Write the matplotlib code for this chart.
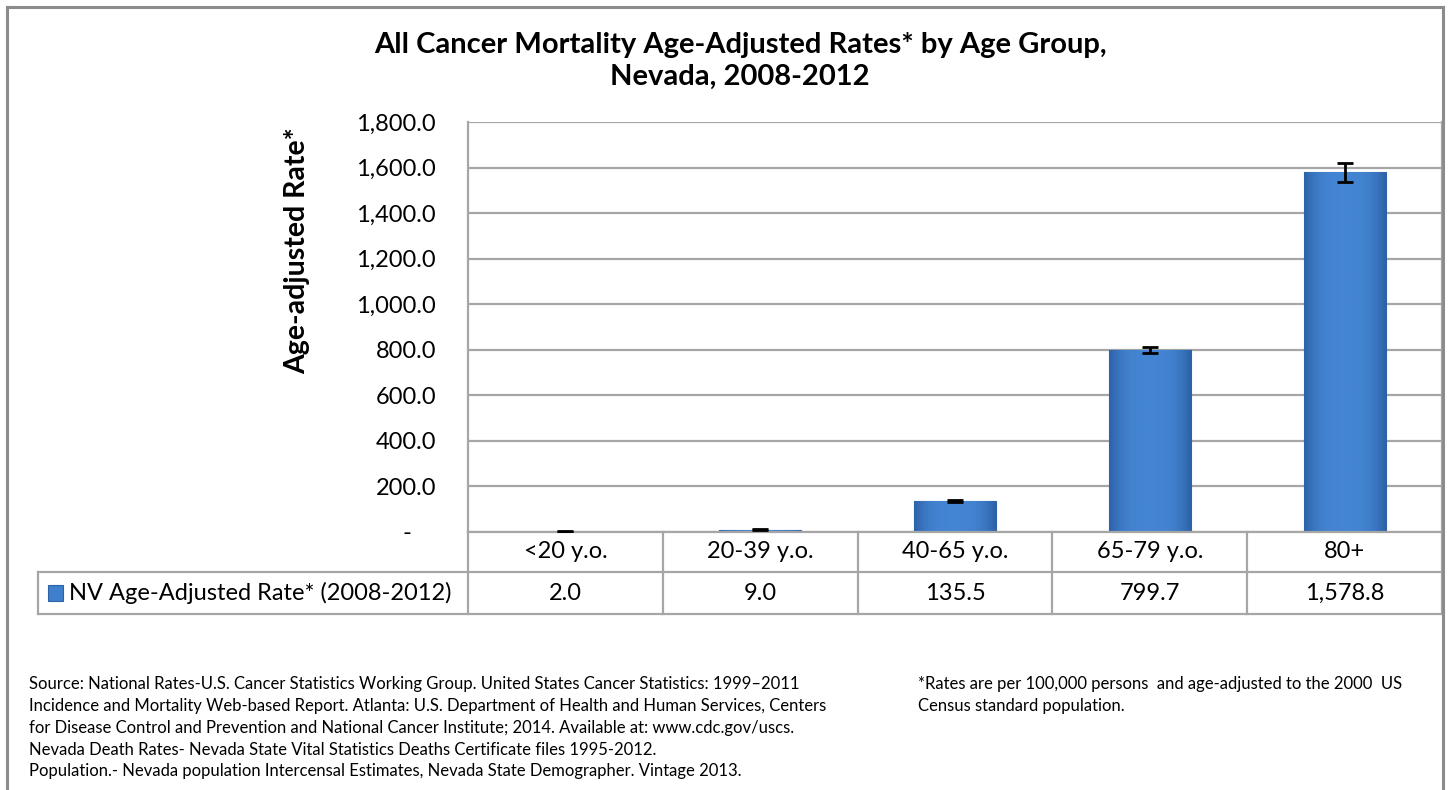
import matplotlib
matplotlib.use("Agg")
import matplotlib.pyplot as plt
import numpy as np
from matplotlib.transforms import blended_transform_factory
from matplotlib.lines import Line2D
from matplotlib.patches import Rectangle

# ---- data ----
categories = ["<20 y.o.", "20-39 y.o.", "40-65 y.o.", "65-79 y.o.", "80+"]
rates = [2.0, 9.0, 135.5, 799.7, 1578.8]
errors = [1.0, 2.0, 4.0, 14.0, 42.0]
series_label = "NV Age-Adjusted Rate* (2008-2012)"
yticks = [0, 200, 400, 600, 800, 1000, 1200, 1400, 1600, 1800]
title = "All Cancer Mortality Age-Adjusted Rates* by Age Group,\nNevada, 2008-2012"
ylabel = "Age-adjusted Rate*"
source_note = ("Source: National Rates-U.S. Cancer Statistics Working Group. United States Cancer Statistics: 1999\u20132011\n"
               "Incidence and Mortality Web-based Report. Atlanta: U.S. Department of Health and Human Services, Centers\n"
               "for Disease Control and Prevention and National Cancer Institute; 2014. Available at: www.cdc.gov/uscs.\n"
               "Nevada Death Rates- Nevada State Vital Statistics Deaths Certificate files 1995-2012.\n"
               "Population.- Nevada population Intercensal Estimates, Nevada State Demographer. Vintage 2013.")
rate_note = ("*Rates are per 100,000 persons  and age-adjusted to the 2000  US\n"
             "Census standard population.")

plt.rcParams['font.family'] = ['Lato', 'DejaVu Sans']

W, H = 1448, 790
fig = plt.figure(figsize=(W / 100, H / 100), dpi=100)

def fy(py):
    return 1 - py / H

def fx(px):
    return px / W

ax_l, ax_r, ax_t, ax_b = 468, 1442, 122, 532
ax = fig.add_axes([fx(ax_l), fy(ax_b), fx(ax_r) - fx(ax_l), fy(ax_t) - fy(ax_b)])

grid_c = "#A6A6A6"
fs = 17
ax.set_xlim(-0.5, len(categories) - 0.5)
ax.set_ylim(0, 1800)
ax.set_yticks(yticks)
ax.set_yticklabels([("-    " if v == 0 else f"{v:,.1f}") for v in yticks], fontsize=fs)
ax.tick_params(axis='y', length=0, pad=23)
ax.set_xticks([])
ax.yaxis.grid(True, color=grid_c, lw=1.6)
ax.set_axisbelow(True)
for s in ax.spines.values():
    s.set_color(grid_c)
    s.set_linewidth(1.6)
ax.spines['top'].set_visible(False)

x = np.arange(len(categories))
bars = ax.bar(x, rates, width=0.42, color="#3F7FCC", edgecolor="#2E62A6", lw=0.8, zorder=2)

# gradient fill for bevel look
grad = np.linspace(0, 1, 64)
prof = 1 - (np.abs(grad - 0.5) * 2) ** 3
cmap = matplotlib.colors.LinearSegmentedColormap.from_list("b", ["#2D62A8", "#4485D3"])
img_arr = np.tile(prof, (2, 1))
for b in bars:
    bx, by = b.get_x(), b.get_y()
    bw, bh = b.get_width(), b.get_height()
    im = ax.imshow(img_arr, extent=[bx, bx + bw, by, by + bh], aspect='auto',
                   cmap=cmap, vmin=0, vmax=1, zorder=2.1, interpolation='bilinear')
    im.set_clip_path(b)
ax.set_xlim(-0.5, len(categories) - 0.5)
ax.set_ylim(0, 1800)

ax.errorbar(x, rates, yerr=errors, fmt='none', ecolor='black', elinewidth=2,
            capsize=6, capthick=2, zorder=3)

# ---- table below axis ----
tr = blended_transform_factory(ax.transData, fig.transFigure)
row1_b, row2_b = 572, 614
tab_left = 38
line_kw = dict(color=grid_c, lw=1.6, clip_on=False)
fig.add_artist(Line2D([fx(tab_left), fx(ax_r)], [fy(row1_b)] * 2, **line_kw))
fig.add_artist(Line2D([fx(tab_left), fx(ax_r)], [fy(row2_b)] * 2, **line_kw))
fig.add_artist(Line2D([fx(tab_left)] * 2, [fy(row1_b), fy(row2_b)], **line_kw))
for i in range(len(categories) + 1):
    xb = i - 0.5
    fig.add_artist(Line2D([xb, xb], [fy(ax_b), fy(row2_b)], transform=tr, **line_kw))
for i, (c, v) in enumerate(zip(categories, rates)):
    fig.text(i, fy((ax_b + row1_b) / 2), c, transform=tr, ha='center', va='center', fontsize=fs)
    fig.text(i, fy((row1_b + row2_b) / 2), f"{v:,.1f}", transform=tr, ha='center', va='center', fontsize=fs)

fig.add_artist(Rectangle((fx(48), fy(601)), fx(63) - fx(48), fy(585) - fy(601),
                         transform=fig.transFigure, facecolor="#3F7FCC", edgecolor="#2E62A6", lw=0.8))
fig.text(fx(69), fy((row1_b + row2_b) / 2), series_label, ha='left', va='center', fontsize=fs)

# ---- titles ----
fig.text(fx(740), fy(61), title, ha='center', va='center', fontsize=21, fontweight='bold',
         linespacing=1.25)
fig.text(fx(297), fy(251), ylabel, ha='center', va='center', rotation=90, fontsize=20.5,
         fontweight='bold')

# ---- notes ----
fig.text(fx(29), fy(676), source_note, ha='left', va='top', fontsize=12, linespacing=1.45)
fig.text(fx(918), fy(676), rate_note, ha='left', va='top', fontsize=12, linespacing=1.45)

# ---- outer frame ----
frame_kw = dict(color="#8C8C8C", lw=2.2, clip_on=False)
fig.add_artist(Line2D([fx(7), fx(7)], [fy(7), fy(800)], **frame_kw))
fig.add_artist(Line2D([fx(7), fx(1443)], [fy(7), fy(7)], **frame_kw))
fig.add_artist(Line2D([fx(1443), fx(1443)], [fy(7), fy(800)], **frame_kw))

fig.savefig("out.png", dpi=100)
